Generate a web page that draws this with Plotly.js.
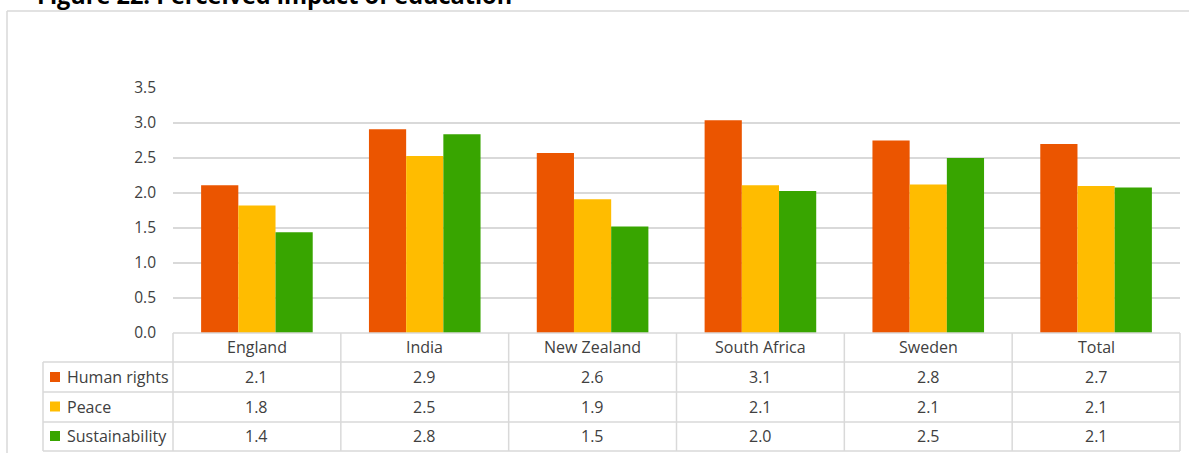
<!DOCTYPE html>
<html>
<head>
<meta charset="utf-8">
<script src="https://cdn.plot.ly/plotly-3.0.1.min.js"></script>
<style>
html,body{margin:0;padding:0;background:#fff;}
#chart{width:1189px;height:453px;}
</style>
</head>
<body>
<div id="chart"></div>
<script>
const titleText = "Figure 22: Perceived impact of education";
const categories = ["England", "India", "New Zealand", "South Africa", "Sweden", "Total"];
const seriesNames = ["Human rights", "Peace", "Sustainability"];
const humanRights = [2.11, 2.91, 2.57, 3.04, 2.75, 2.70];
const peace = [1.82, 2.53, 1.91, 2.11, 2.12, 2.10];
const sustainability = [1.44, 2.84, 1.52, 2.03, 2.50, 2.08];
const tableHumanRights = ["2.1", "2.9", "2.6", "3.1", "2.8", "2.7"];
const tablePeace = ["1.8", "2.5", "1.9", "2.1", "2.1", "2.1"];
const tableSustainability = ["1.4", "2.8", "1.5", "2.0", "2.5", "2.1"];
const yTickVals = [0, 0.5, 1, 1.5, 2, 2.5, 3, 3.5];
const yTickText = ["0.0", "0.5", "1.0", "1.5", "2.0", "2.5", "3.0", "3.5"];

const colors = ["#EB5500", "#FFBC00", "#38A500"];
const W = 1189, H = 453;
const L = 173, R = 1180, T = 88, B = 333;
const px2x = X => (X - L) / (R - L);
const px2y = Y => (B - Y) / (B - T);
const gridColor = "#d9d9d9";
const textColor = "#404040";
const fontFam = "Open Sans, sans-serif";

const seriesValues = [humanRights, peace, sustainability];
const tableRows = [tableHumanRights, tablePeace, tableSustainability];

const traces = seriesValues.map((vals, i) => ({
  type: "bar",
  name: seriesNames[i],
  x: categories,
  y: vals,
  marker: {color: colors[i], line: {width: 0}},
  hoverinfo: "x+y+name"
}));

const shapes = [];
const annotations = [];
const line = (x0, y0, x1, y1, w) => shapes.push({
  type: "line", xref: "paper", yref: "paper",
  x0: px2x(x0), y0: px2y(y0), x1: px2x(x1), y1: px2y(y1),
  line: {color: gridColor, width: w || 1.5}
});

// outer frame
line(7, 11, W + 5, 11, 1.5);
line(7, 11, 7, H + 5, 1.5);

// table
const rowLines = [362, 392, 422, 451];
const headerTop = 333;
const colW = (R - L) / categories.length;
line(L, headerTop, R, headerTop);
rowLines.forEach(Y => line(43, Y, R, Y));
line(43, 362, 43, 451);
for (let i = 0; i <= categories.length; i++) {
  line(L + i * colW, headerTop, L + i * colW, 451);
}

// header labels
categories.forEach((c, i) => {
  annotations.push({
    xref: "paper", yref: "paper", x: (i + 0.5) / categories.length, y: px2y(347),
    text: c, showarrow: false, xanchor: "center", yanchor: "middle",
    font: {family: fontFam, size: 16, color: textColor}
  });
});

// rows
const rowCenters = [377, 406.5, 436];
tableRows.forEach((row, r) => {
  const yc = rowCenters[r];
  shapes.push({
    type: "rect", xref: "paper", yref: "paper",
    x0: px2x(50), x1: px2x(60), y0: px2y(yc - 5), y1: px2y(yc + 5),
    fillcolor: colors[r], line: {width: 0}
  });
  annotations.push({
    xref: "paper", yref: "paper", x: px2x(65), y: px2y(yc),
    text: seriesNames[r], showarrow: false, xanchor: "left", yanchor: "middle",
    font: {family: fontFam, size: 16, color: textColor}
  });
  row.forEach((v, i) => {
    annotations.push({
      xref: "paper", yref: "paper", x: (i + 0.5) / categories.length, y: px2y(yc),
      text: v, showarrow: false, xanchor: "center", yanchor: "middle",
      font: {family: fontFam, size: 16, color: textColor}
    });
  });
});

// title (cut off at top, as in the reference)
annotations.push({
  xref: "paper", yref: "paper", x: px2x(35), y: px2y(13),
  text: "<b>" + titleText + "</b>", showarrow: false, xanchor: "left", yanchor: "bottom",
  font: {family: fontFam, size: 23.5, color: "#000000"}
});

const layout = {
  width: W, height: H,
  margin: {l: L, r: W - R, t: T, b: H - B, pad: 0},
  paper_bgcolor: "#ffffff", plot_bgcolor: "#ffffff",
  showlegend: false,
  barmode: "group",
  bargap: 0.335,
  bargroupgap: 0,
  xaxis: {
    showticklabels: false, showgrid: false, zeroline: false, showline: false,
    ticks: "", fixedrange: true
  },
  yaxis: {
    range: [0, 3.5], tickvals: yTickVals, ticktext: yTickText,
    showgrid: true, gridcolor: gridColor, gridwidth: 1.5,
    zeroline: false, showline: false, ticks: "",
    ticklabelstandoff: 16,
    tickfont: {family: fontFam, size: 15.5, color: textColor},
    fixedrange: true
  },
  shapes: shapes,
  annotations: annotations
};

Plotly.newPlot("chart", traces, layout, {displayModeBar: false, staticPlot: true});
</script>
</body>
</html>
